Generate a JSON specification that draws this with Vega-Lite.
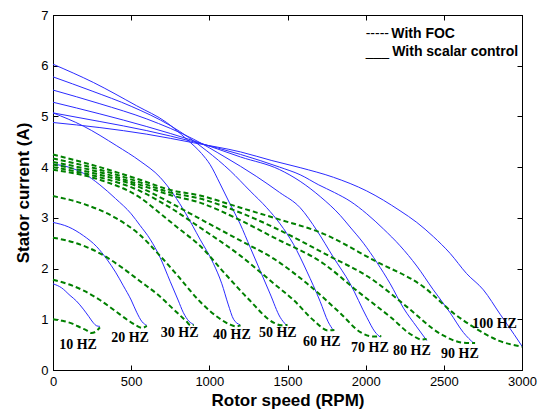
{
  "$schema": "https://vega.github.io/schema/vega-lite/v6.json",
  "width": 469,
  "height": 355,
  "autosize": {"type": "none"},
  "padding": {"left": 53, "top": 15, "right": 26, "bottom": 39},
  "background": "white",
  "config": {
    "view": {"stroke": "#000", "strokeWidth": 1},
    "font": "Liberation Sans",
    "axis": {"grid": false, "domainColor": "#000", "tickColor": "#000", "labelColor": "#000", "titleColor": "#000", "labelFont": "Liberation Sans", "titleFont": "Liberation Sans", "labelFlush": false, "labelOverlap": false}
  },
  "datasets": {
    "curves": [
      {"c":"s","f":10,"x":0,"y":1.70},{"c":"s","f":10,"x":55,"y":1.62},{"c":"s","f":10,"x":109,"y":1.47},{"c":"s","f":10,"x":150,"y":1.36},{"c":"s","f":10,"x":194,"y":1.2},{"c":"s","f":10,"x":230,"y":1.05},{"c":"s","f":10,"x":258,"y":0.93},{"c":"s","f":10,"x":280,"y":0.87},{"c":"s","f":10,"x":300,"y":0.86},
      {"c":"s","f":20,"x":0,"y":2.91},{"c":"s","f":20,"x":100,"y":2.82},{"c":"s","f":20,"x":194,"y":2.65},{"c":"s","f":20,"x":280,"y":2.43},{"c":"s","f":20,"x":343,"y":2.19},{"c":"s","f":20,"x":400,"y":1.93},{"c":"s","f":20,"x":450,"y":1.66},{"c":"s","f":20,"x":500,"y":1.38},{"c":"s","f":20,"x":535,"y":1.14},{"c":"s","f":20,"x":570,"y":0.95},{"c":"s","f":20,"x":600,"y":0.88},
      {"c":"s","f":30,"x":0,"y":4.06},{"c":"s","f":30,"x":100,"y":4.0},{"c":"s","f":30,"x":194,"y":3.88},{"c":"s","f":30,"x":300,"y":3.65},{"c":"s","f":30,"x":400,"y":3.38},{"c":"s","f":30,"x":500,"y":3.08},{"c":"s","f":30,"x":557,"y":2.85},{"c":"s","f":30,"x":621,"y":2.58},{"c":"s","f":30,"x":685,"y":2.22},{"c":"s","f":30,"x":749,"y":1.75},{"c":"s","f":30,"x":800,"y":1.38},{"c":"s","f":30,"x":834,"y":1.13},{"c":"s","f":30,"x":870,"y":0.96},{"c":"s","f":30,"x":900,"y":0.9},
      {"c":"s","f":40,"x":0,"y":5.07},{"c":"s","f":40,"x":194,"y":4.81},{"c":"s","f":40,"x":408,"y":4.42},{"c":"s","f":40,"x":557,"y":4.12},{"c":"s","f":40,"x":685,"y":3.8},{"c":"s","f":40,"x":770,"y":3.47},{"c":"s","f":40,"x":850,"y":3.08},{"c":"s","f":40,"x":940,"y":2.58},{"c":"s","f":40,"x":1026,"y":2.1},{"c":"s","f":40,"x":1080,"y":1.7},{"c":"s","f":40,"x":1120,"y":1.3},{"c":"s","f":40,"x":1155,"y":1.0},{"c":"s","f":40,"x":1197,"y":0.89},
      {"c":"s","f":50,"x":0,"y":6.03},{"c":"s","f":50,"x":258,"y":5.67},{"c":"s","f":50,"x":535,"y":5.21},{"c":"s","f":50,"x":727,"y":4.88},{"c":"s","f":50,"x":855,"y":4.55},{"c":"s","f":50,"x":950,"y":4.27},{"c":"s","f":50,"x":1005,"y":4.05},{"c":"s","f":50,"x":1069,"y":3.67},{"c":"s","f":50,"x":1133,"y":3.27},{"c":"s","f":50,"x":1197,"y":2.88},{"c":"s","f":50,"x":1261,"y":2.42},{"c":"s","f":50,"x":1325,"y":1.96},{"c":"s","f":50,"x":1389,"y":1.5},{"c":"s","f":50,"x":1453,"y":1.04},{"c":"s","f":50,"x":1491,"y":0.89},
      {"c":"s","f":60,"x":0,"y":5.78},{"c":"s","f":60,"x":250,"y":5.5},{"c":"s","f":60,"x":500,"y":5.2},{"c":"s","f":60,"x":750,"y":4.82},{"c":"s","f":60,"x":984,"y":4.32},{"c":"s","f":60,"x":1133,"y":3.93},{"c":"s","f":60,"x":1261,"y":3.53},{"c":"s","f":60,"x":1367,"y":3.2},{"c":"s","f":60,"x":1453,"y":2.88},{"c":"s","f":60,"x":1538,"y":2.48},{"c":"s","f":60,"x":1623,"y":1.95},{"c":"s","f":60,"x":1709,"y":1.35},{"c":"s","f":60,"x":1760,"y":0.95},{"c":"s","f":60,"x":1794,"y":0.78},
      {"c":"s","f":70,"x":0,"y":5.52},{"c":"s","f":70,"x":300,"y":5.25},{"c":"s","f":70,"x":600,"y":4.95},{"c":"s","f":70,"x":900,"y":4.55},{"c":"s","f":70,"x":1100,"y":4.2},{"c":"s","f":70,"x":1300,"y":3.82},{"c":"s","f":70,"x":1450,"y":3.5},{"c":"s","f":70,"x":1581,"y":3.2},{"c":"s","f":70,"x":1688,"y":2.75},{"c":"s","f":70,"x":1794,"y":2.22},{"c":"s","f":70,"x":1901,"y":1.7},{"c":"s","f":70,"x":2007,"y":1.04},{"c":"s","f":70,"x":2060,"y":0.75},{"c":"s","f":70,"x":2093,"y":0.65},
      {"c":"s","f":80,"x":0,"y":5.28},{"c":"s","f":80,"x":300,"y":5.05},{"c":"s","f":80,"x":600,"y":4.8},{"c":"s","f":80,"x":900,"y":4.52},{"c":"s","f":80,"x":1200,"y":4.2},{"c":"s","f":80,"x":1450,"y":3.95},{"c":"s","f":80,"x":1581,"y":3.72},{"c":"s","f":80,"x":1709,"y":3.42},{"c":"s","f":80,"x":1837,"y":3.05},{"c":"s","f":80,"x":1900,"y":2.82},{"c":"s","f":80,"x":1986,"y":2.5},{"c":"s","f":80,"x":2072,"y":2.12},{"c":"s","f":80,"x":2157,"y":1.7},{"c":"s","f":80,"x":2242,"y":1.22},{"c":"s","f":80,"x":2327,"y":0.85},{"c":"s","f":80,"x":2391,"y":0.58},
      {"c":"s","f":90,"x":0,"y":5.07},{"c":"s","f":90,"x":300,"y":4.9},{"c":"s","f":90,"x":600,"y":4.72},{"c":"s","f":90,"x":900,"y":4.5},{"c":"s","f":90,"x":1200,"y":4.25},{"c":"s","f":90,"x":1450,"y":4.0},{"c":"s","f":90,"x":1581,"y":3.85},{"c":"s","f":90,"x":1700,"y":3.65},{"c":"s","f":90,"x":1800,"y":3.5},{"c":"s","f":90,"x":1900,"y":3.33},{"c":"s","f":90,"x":2007,"y":3.08},{"c":"s","f":90,"x":2114,"y":2.78},{"c":"s","f":90,"x":2220,"y":2.45},{"c":"s","f":90,"x":2327,"y":2.05},{"c":"s","f":90,"x":2433,"y":1.58},{"c":"s","f":90,"x":2540,"y":1.13},{"c":"s","f":90,"x":2625,"y":0.74},{"c":"s","f":90,"x":2694,"y":0.52},
      {"c":"s","f":100,"x":0,"y":4.88},{"c":"s","f":100,"x":300,"y":4.78},{"c":"s","f":100,"x":600,"y":4.65},{"c":"s","f":100,"x":900,"y":4.48},{"c":"s","f":100,"x":1200,"y":4.3},{"c":"s","f":100,"x":1400,"y":4.13},{"c":"s","f":100,"x":1581,"y":3.99},{"c":"s","f":100,"x":1794,"y":3.8},{"c":"s","f":100,"x":2007,"y":3.53},{"c":"s","f":100,"x":2220,"y":3.14},{"c":"s","f":100,"x":2327,"y":2.91},{"c":"s","f":100,"x":2433,"y":2.63},{"c":"s","f":100,"x":2540,"y":2.3},{"c":"s","f":100,"x":2646,"y":1.9},{"c":"s","f":100,"x":2753,"y":1.58},{"c":"s","f":100,"x":2860,"y":1.1},{"c":"s","f":100,"x":2950,"y":0.7},{"c":"s","f":100,"x":3000,"y":0.47},
      {"c":"g","f":10,"x":0,"y":1.0},{"c":"g","f":10,"x":60,"y":0.97},{"c":"g","f":10,"x":128,"y":0.91},{"c":"g","f":10,"x":180,"y":0.83},{"c":"g","f":10,"x":215,"y":0.78},{"c":"g","f":10,"x":245,"y":0.73},{"c":"g","f":10,"x":270,"y":0.75},{"c":"g","f":10,"x":300,"y":0.84},
      {"c":"g","f":20,"x":0,"y":1.78},{"c":"g","f":20,"x":100,"y":1.69},{"c":"g","f":20,"x":200,"y":1.56},{"c":"g","f":20,"x":300,"y":1.38},{"c":"g","f":20,"x":400,"y":1.16},{"c":"g","f":20,"x":480,"y":0.98},{"c":"g","f":20,"x":537,"y":0.87},{"c":"g","f":20,"x":570,"y":0.83},{"c":"g","f":20,"x":600,"y":0.87},
      {"c":"g","f":30,"x":0,"y":2.61},{"c":"g","f":30,"x":150,"y":2.5},{"c":"g","f":30,"x":300,"y":2.3},{"c":"g","f":30,"x":450,"y":2.0},{"c":"g","f":30,"x":557,"y":1.75},{"c":"g","f":30,"x":665,"y":1.5},{"c":"g","f":30,"x":770,"y":1.2},{"c":"g","f":30,"x":856,"y":0.95},{"c":"g","f":30,"x":880,"y":0.88},{"c":"g","f":30,"x":900,"y":0.89},
      {"c":"g","f":40,"x":0,"y":3.43},{"c":"g","f":40,"x":200,"y":3.27},{"c":"g","f":40,"x":400,"y":3.0},{"c":"g","f":40,"x":550,"y":2.68},{"c":"g","f":40,"x":685,"y":2.25},{"c":"g","f":40,"x":800,"y":1.85},{"c":"g","f":40,"x":940,"y":1.35},{"c":"g","f":40,"x":1050,"y":1.05},{"c":"g","f":40,"x":1130,"y":0.9},{"c":"g","f":40,"x":1170,"y":0.86},{"c":"g","f":40,"x":1200,"y":0.88},
      {"c":"g","f":50,"x":0,"y":3.95},{"c":"g","f":50,"x":300,"y":3.75},{"c":"g","f":50,"x":557,"y":3.4},{"c":"g","f":50,"x":700,"y":3.05},{"c":"g","f":50,"x":800,"y":2.8},{"c":"g","f":50,"x":940,"y":2.45},{"c":"g","f":50,"x":1100,"y":1.9},{"c":"g","f":50,"x":1250,"y":1.4},{"c":"g","f":50,"x":1414,"y":0.93},{"c":"g","f":50,"x":1460,"y":0.88},{"c":"g","f":50,"x":1500,"y":0.89},
      {"c":"g","f":60,"x":0,"y":4.0},{"c":"g","f":60,"x":300,"y":3.8},{"c":"g","f":60,"x":557,"y":3.53},{"c":"g","f":60,"x":750,"y":3.2},{"c":"g","f":60,"x":940,"y":2.81},{"c":"g","f":60,"x":1200,"y":2.25},{"c":"g","f":60,"x":1414,"y":1.7},{"c":"g","f":60,"x":1542,"y":1.37},{"c":"g","f":60,"x":1670,"y":0.97},{"c":"g","f":60,"x":1760,"y":0.78},{"c":"g","f":60,"x":1800,"y":0.79},
      {"c":"g","f":70,"x":0,"y":4.05},{"c":"g","f":70,"x":300,"y":3.85},{"c":"g","f":70,"x":557,"y":3.6},{"c":"g","f":70,"x":750,"y":3.3},{"c":"g","f":70,"x":940,"y":2.98},{"c":"g","f":70,"x":1200,"y":2.55},{"c":"g","f":70,"x":1414,"y":2.19},{"c":"g","f":70,"x":1627,"y":1.7},{"c":"g","f":70,"x":1841,"y":1.11},{"c":"g","f":70,"x":1969,"y":0.74},{"c":"g","f":70,"x":2050,"y":0.66},{"c":"g","f":70,"x":2100,"y":0.67},
      {"c":"g","f":80,"x":0,"y":4.1},{"c":"g","f":80,"x":300,"y":3.9},{"c":"g","f":80,"x":557,"y":3.65},{"c":"g","f":80,"x":750,"y":3.45},{"c":"g","f":80,"x":940,"y":3.3},{"c":"g","f":80,"x":1200,"y":2.95},{"c":"g","f":80,"x":1414,"y":2.61},{"c":"g","f":80,"x":1734,"y":2.09},{"c":"g","f":80,"x":1945,"y":1.56},{"c":"g","f":80,"x":2160,"y":1.04},{"c":"g","f":80,"x":2300,"y":0.68},{"c":"g","f":80,"x":2360,"y":0.6},{"c":"g","f":80,"x":2390,"y":0.61},
      {"c":"g","f":90,"x":0,"y":4.17},{"c":"g","f":90,"x":300,"y":3.95},{"c":"g","f":90,"x":557,"y":3.7},{"c":"g","f":90,"x":750,"y":3.5},{"c":"g","f":90,"x":940,"y":3.38},{"c":"g","f":90,"x":1200,"y":3.1},{"c":"g","f":90,"x":1414,"y":2.81},{"c":"g","f":90,"x":1734,"y":2.3},{"c":"g","f":90,"x":2054,"y":1.76},{"c":"g","f":90,"x":2266,"y":1.24},{"c":"g","f":90,"x":2480,"y":0.71},{"c":"g","f":90,"x":2620,"y":0.54},{"c":"g","f":90,"x":2700,"y":0.53},
      {"c":"g","f":100,"x":0,"y":4.25},{"c":"g","f":100,"x":300,"y":4.0},{"c":"g","f":100,"x":557,"y":3.75},{"c":"g","f":100,"x":750,"y":3.55},{"c":"g","f":100,"x":940,"y":3.44},{"c":"g","f":100,"x":1200,"y":3.2},{"c":"g","f":100,"x":1414,"y":3.0},{"c":"g","f":100,"x":1734,"y":2.68},{"c":"g","f":100,"x":2054,"y":2.16},{"c":"g","f":100,"x":2374,"y":1.63},{"c":"g","f":100,"x":2566,"y":1.11},{"c":"g","f":100,"x":2694,"y":0.84},{"c":"g","f":100,"x":2850,"y":0.58},{"c":"g","f":100,"x":3000,"y":0.46}
    ],
    "labels": [
      {"t":"10 HZ","x":160,"y":0.49},{"t":"20 HZ","x":493,"y":0.64},{"t":"30 HZ","x":810,"y":0.72},{"t":"40 HZ","x":1144,"y":0.69},{"t":"50 HZ","x":1438,"y":0.73},
      {"t":"60 HZ","x":1719,"y":0.56},{"t":"70 HZ","x":2027,"y":0.43},{"t":"80 HZ","x":2296,"y":0.38},{"t":"90 HZ","x":2603,"y":0.31},{"t":"100 HZ","x":2824,"y":0.9}
    ],
    "legendKeys": [
      {"t":"-----","x":2000,"y":6.55},{"t":"___","x":2000,"y":6.19}
    ],
    "legendText": [
      {"t":"With FOC","x":2164,"y":6.55},{"t":"With scalar control","x":2170,"y":6.19}
    ]
  },
  "resolve": {"axis": {"x": "independent", "y": "independent"}},
  "layer": [
    {
      "data": {"name": "curves"},
      "transform": [{"filter": "datum.c === 's'"}],
      "mark": {"type": "line", "interpolate": "monotone", "color": "#2b2bff", "strokeWidth": 1},
      "encoding": {
        "x": {"field": "x", "type": "quantitative", "scale": {"domain": [0, 3000], "nice": false},
              "axis": {"orient": "bottom", "values": [0,500,1000,1500,2000,2500,3000], "format": "d", "tickSize": -5, "labelPadding": 10, "labelFontSize": 13, "title": "Rotor speed (RPM)", "titleFontSize": 17, "titleFontWeight": "bold", "titlePadding": 4}},
        "y": {"field": "y", "type": "quantitative", "scale": {"domain": [0, 7], "nice": false},
              "axis": {"orient": "left", "values": [0,1,2,3,4,5,6,7], "format": "d", "tickSize": -5, "labelPadding": 10, "labelFontSize": 13, "title": "Stator current (A)", "titleFontSize": 17, "titleFontWeight": "bold", "titlePadding": 8}},
        "detail": {"field": "f", "type": "nominal"}
      }
    },
    {
      "data": {"name": "curves"},
      "transform": [{"filter": "datum.c === 'g'"}],
      "mark": {"type": "line", "interpolate": "monotone", "color": "#008000", "strokeWidth": 2, "strokeDash": [5, 3]},
      "encoding": {
        "x": {"field": "x", "type": "quantitative",
              "axis": {"orient": "top", "values": [0,500,1000,1500,2000,2500,3000], "tickSize": -5, "labels": false, "title": null}},
        "y": {"field": "y", "type": "quantitative",
              "axis": {"orient": "right", "values": [0,1,2,3,4,5,6,7], "tickSize": -5, "labels": false, "title": null}},
        "detail": {"field": "f", "type": "nominal"}
      }
    },
    {
      "data": {"name": "labels"},
      "mark": {"type": "text", "font": "Liberation Serif", "fontWeight": "bold", "fontSize": 14, "color": "#000", "align": "center", "baseline": "middle"},
      "encoding": {
        "x": {"field": "x", "type": "quantitative", "axis": null},
        "y": {"field": "y", "type": "quantitative", "axis": null},
        "text": {"field": "t"}
      }
    },
    {
      "data": {"name": "legendKeys"},
      "mark": {"type": "text", "font": "Liberation Sans", "fontSize": 14, "color": "#000", "align": "left", "baseline": "alphabetic"},
      "encoding": {
        "x": {"field": "x", "type": "quantitative", "axis": null},
        "y": {"field": "y", "type": "quantitative", "axis": null},
        "text": {"field": "t"}
      }
    },
    {
      "data": {"name": "legendText"},
      "mark": {"type": "text", "font": "Liberation Sans", "fontWeight": "bold", "fontSize": 14, "color": "#000", "align": "left", "baseline": "alphabetic"},
      "encoding": {
        "x": {"field": "x", "type": "quantitative", "axis": null},
        "y": {"field": "y", "type": "quantitative", "axis": null},
        "text": {"field": "t"}
      }
    }
  ]
}
